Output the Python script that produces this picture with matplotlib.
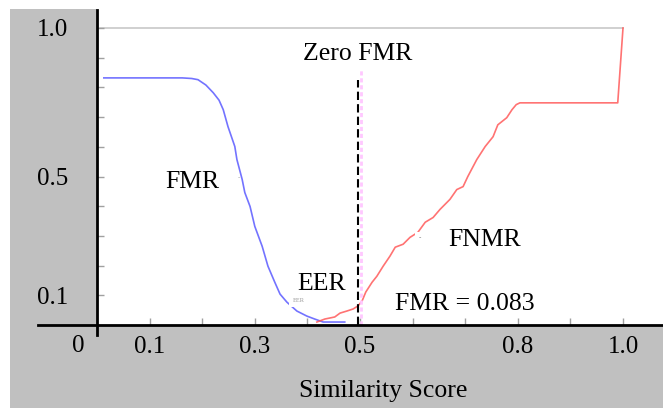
import numpy as np
import matplotlib
matplotlib.use("Agg")
import matplotlib.pyplot as plt
from matplotlib.lines import Line2D
from matplotlib.patches import Rectangle

plt.rcParams['font.family'] = ['Liberation Serif', 'DejaVu Serif']

# FMR curve (blue)
fmr_x = [0.013, 0.162, 0.180, 0.192, 0.207, 0.221, 0.232, 0.240, 0.249, 0.262,
         0.266, 0.276, 0.281, 0.291, 0.300, 0.314, 0.325, 0.338, 0.348, 0.361,
         0.380, 0.399, 0.414, 0.430, 0.471]
fmr_y = [0.832, 0.832, 0.830, 0.826, 0.808, 0.782, 0.757, 0.725, 0.668, 0.601,
         0.557, 0.490, 0.446, 0.399, 0.332, 0.265, 0.198, 0.144, 0.104, 0.077,
         0.047, 0.030, 0.020, 0.010, 0.010]

# FNMR curve (red)
fnmr_x = [0.418, 0.433, 0.452, 0.462, 0.475, 0.487, 0.496, 0.504, 0.511, 0.523,
          0.532, 0.544, 0.557, 0.567, 0.582, 0.595, 0.610, 0.624, 0.639, 0.652,
          0.671, 0.684, 0.696, 0.705, 0.722, 0.738, 0.753, 0.762, 0.779, 0.789,
          0.797, 0.804, 0.990, 1.000]
fnmr_y = [0.010, 0.020, 0.027, 0.040, 0.047, 0.054, 0.064, 0.081, 0.111, 0.144,
          0.164, 0.198, 0.232, 0.262, 0.272, 0.295, 0.312, 0.346, 0.362, 0.389,
          0.423, 0.456, 0.466, 0.500, 0.557, 0.601, 0.634, 0.674, 0.698, 0.725,
          0.742, 0.748, 0.748, 1.000]

zero_fmr = 0.496
zero_fmr_top = 0.826
fmr_at_zero = 0.083

xtick_vals = [0.1, 0.3, 0.5, 0.8, 1.0]
ytick_vals = [0.1, 0.5, 1.0]

W, H = 663, 408
fig = plt.figure(figsize=(W / 100, H / 100), dpi=100, facecolor='white')

# gray background panel
fig.add_artist(Rectangle((10 / W, 0), 1, (H - 9) / H, transform=fig.transFigure,
                         facecolor='#c0c0c0', edgecolor='none', zorder=0))

ax = fig.add_axes([97 / W, 83 / H, 566 / W, 325 / H])
ax.set_facecolor('white')
ax.set_zorder(1)
for s in ax.spines.values():
    s.set_visible(False)

ax.set_xlim(0, 566 / 526)
ax.set_ylim(0, 325 / 297)

# top reference line at 1.0
ax.plot([0.005, 1.0], [1.0, 1.0], color='#c8c8c8', lw=1.2, zorder=1)

ax.plot(fmr_x, fmr_y, color='#6464ff', lw=1.2, alpha=0.9, zorder=2)
ax.plot(fnmr_x, fnmr_y, color='#ff5a5a', lw=1.2, alpha=0.85, zorder=2)

ax.plot([zero_fmr + 0.006, zero_fmr + 0.006], [0, zero_fmr_top + 0.035],
        color='#ffc8ff', lw=2, ls=(0, (1.5, 1)), zorder=2)
ax.plot([zero_fmr, zero_fmr], [0, zero_fmr_top], color='black', lw=1.5,
        ls=(0, (4, 2)), zorder=3)

fs = 18.5
ax.text(zero_fmr, 0.892, 'Zero FMR', fontsize=fs, ha='center', va='baseline')
ax.text(0.129, 0.461, 'FMR', fontsize=fs, ha='left', va='baseline')
ax.text(0.380, 0.118, 'EER', fontsize=fs, ha='left', va='baseline')
ax.text(0.667, 0.266, 'FNMR', fontsize=fs, ha='left', va='baseline')
ax.text(0.567, 0.05, 'FMR = %.3f' % fmr_at_zero, fontsize=fs, ha='left', va='baseline')

# tiny leftover labels with white boxes
bb = dict(facecolor='white', edgecolor='none', pad=3)
ax.text(0.373, 0.084, 'EER', fontsize=4.5, color='#999999', ha='left', va='center',
        bbox=bb, zorder=4)
ax.text(0.612, 0.293, '\u2022\u2022', fontsize=3.5, color='#999999', ha='left', va='center',
        bbox=bb, zorder=4)
ax.text(0.270, 0.497, '-', fontsize=5, color='#999999', ha='center', va='center', zorder=4)

ticks = np.round(np.arange(0.1, 1.01, 0.1), 1)
ax.set_xticks(ticks)
ax.set_xticklabels([('%.1f' % t) if t in xtick_vals else '' for t in ticks])
ax.set_yticks(ticks)
ax.set_yticklabels([('%.1f' % t) if t in ytick_vals else '' for t in ticks])
ax.tick_params(axis='both', direction='in', length=5, width=1, color='#a0a0a0',
               labelsize=18)
ax.tick_params(axis='x', pad=8)
ax.tick_params(axis='y', pad=21)

fig.text(78 / W, (H - 352) / H, '0', fontsize=18, ha='center', va='baseline')
fig.text(383 / W, (H - 397) / H, 'Similarity Score', fontsize=18.5,
         ha='center', va='baseline')

# axis lines
fig.add_artist(Line2D([38 / W, 1], [83 / H, 83 / H], transform=fig.transFigure,
                      color='black', lw=2, zorder=5))
fig.add_artist(Line2D([97 / W, 97 / W], [73 / H, 398 / H], transform=fig.transFigure,
                      color='black', lw=2, zorder=5))

fig.savefig('out.png', dpi=100, facecolor=fig.get_facecolor())
